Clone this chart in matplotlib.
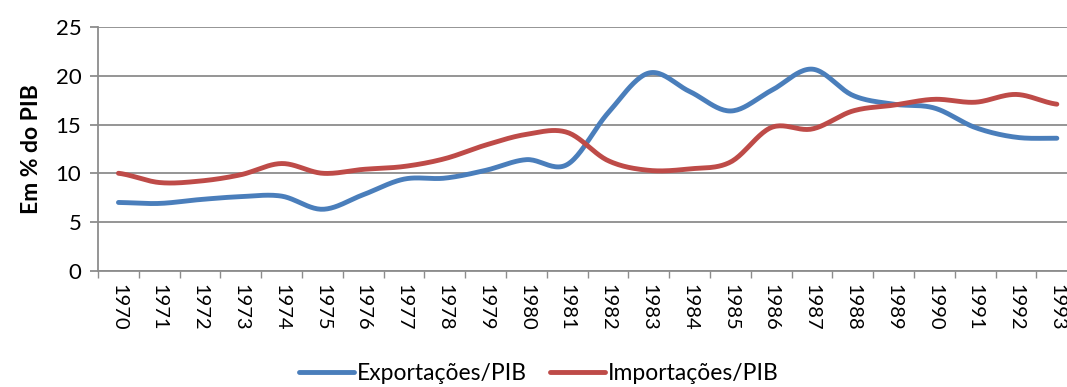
import numpy as np
import matplotlib.pyplot as plt
from matplotlib.ticker import FixedLocator

years = [str(y) for y in range(1970, 1994)]
exportacoes = [7.0, 6.9, 7.3, 7.6, 7.65, 6.3, 7.8, 9.4, 9.5, 10.3, 11.4, 10.9,
               16.2, 20.3, 18.4, 16.4, 18.5, 20.7, 18.0, 17.1, 16.7, 14.7, 13.7, 13.6]
importacoes = [10.0, 9.05, 9.2, 9.85, 11.0, 10.0, 10.4, 10.7, 11.5, 12.9, 14.0, 14.2,
               11.3, 10.3, 10.45, 11.15, 14.7, 14.55, 16.4, 17.0, 17.6, 17.3, 18.1, 17.1]

plt.rcParams['font.family'] = ['Lato', 'DejaVu Sans']


def smooth(y, n=24):
    # Catmull-Rom spline through the points (same idea as Excel's smoothed line)
    y = np.asarray(y, dtype=float)
    p = np.concatenate([[y[0]], y, [y[-1]]])
    xs, ys = [], []
    t = np.linspace(0, 1, n, endpoint=False)
    for i in range(len(y) - 1):
        p0, p1, p2, p3 = p[i], p[i + 1], p[i + 2], p[i + 3]
        seg = 0.5 * (2 * p1 + (-p0 + p2) * t + (2 * p0 - 5 * p1 + 4 * p2 - p3) * t ** 2
                     + (-p0 + 3 * p1 - 3 * p2 + p3) * t ** 3)
        xs.extend(i + t)
        ys.extend(seg)
    xs.append(len(y) - 1)
    ys.append(y[-1])
    return np.array(xs), np.array(ys)


fig = plt.figure(figsize=(10.67, 3.87), dpi=100)
# plot area runs a little past the right edge of the figure
ax = fig.add_axes([0.0919, 0.3008, 0.9177, 0.6287])

x, y = smooth(exportacoes)
ax.plot(x, y, color='#4a7ebb', linewidth=3.5, solid_capstyle='round', label='Exportações/PIB')
x, y = smooth(importacoes)
ax.plot(x, y, color='#be4b48', linewidth=3.5, solid_capstyle='round', label='Importações/PIB')

ax.set_ylim(0, 25)
ax.set_yticks(np.arange(0, 26, 5))
ax.set_xlim(-0.5, len(years) - 0.5)
ax.set_xticks(range(len(years)))
ax.set_xticklabels(years, rotation=-90)
ax.xaxis.set_minor_locator(FixedLocator(np.arange(-0.5, len(years), 1)))

ax.grid(axis='y', color='#8c8c8c', linewidth=1.3)
ax.set_axisbelow(True)
for s in ['top', 'right']:
    ax.spines[s].set_visible(False)
for s in ['left', 'bottom']:
    ax.spines[s].set_color('#8c8c8c')
    ax.spines[s].set_linewidth(1.3)

ax.tick_params(axis='y', length=6, width=1.3, color='#8c8c8c', labelsize=16, pad=6)
ax.tick_params(axis='x', which='major', length=0, labelsize=14.5, pad=10)
ax.tick_params(axis='x', which='minor', length=5, width=1.0, color='#8c8c8c')

ax.set_ylabel('Em % do PIB', fontsize=16.5, fontweight='bold', labelpad=10)

fig.legend(loc='center', bbox_to_anchor=(0.505, 0.035), ncol=2, frameon=False,
           fontsize=16.5, handlelength=2.4, handletextpad=0.15, columnspacing=1.0,
           borderpad=0.2)

fig.savefig('out.png', dpi=100)
